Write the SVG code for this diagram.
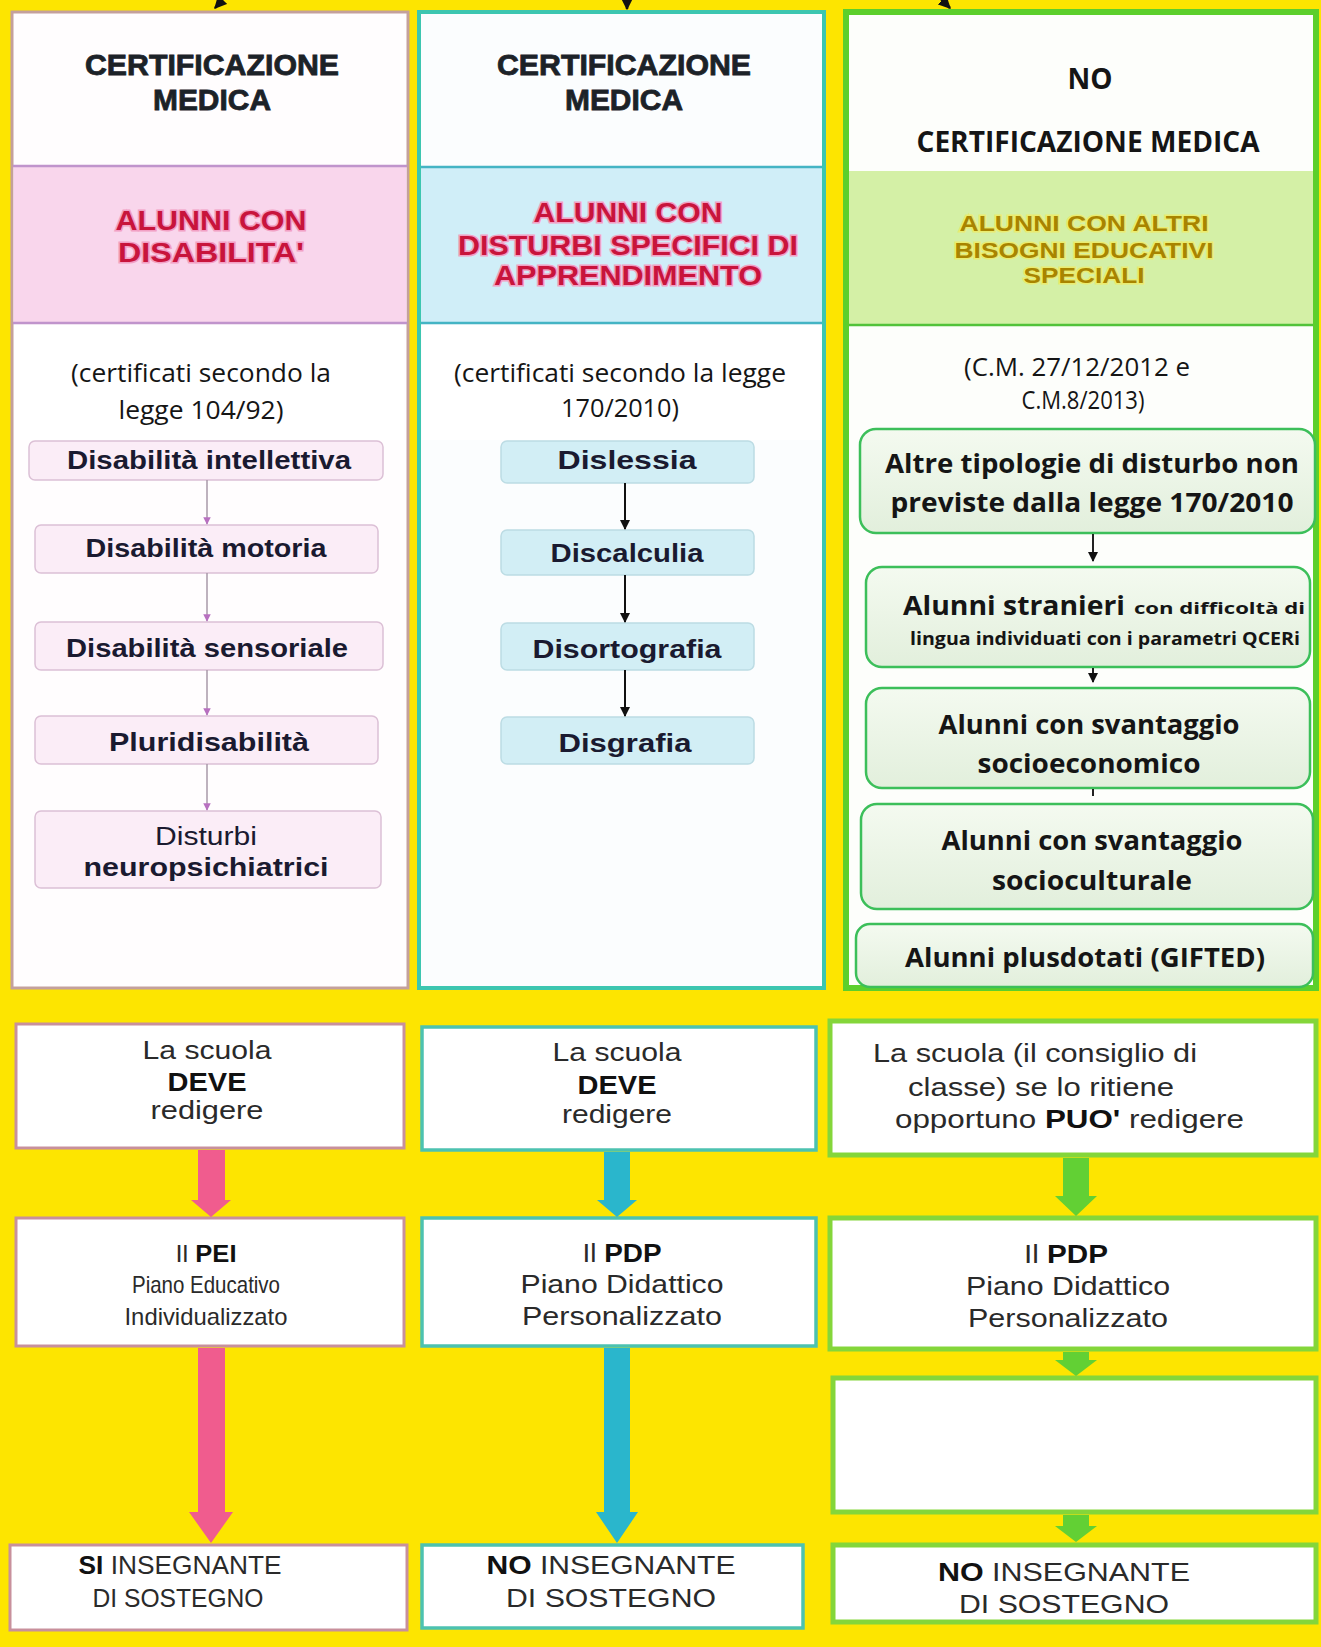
<svg xmlns="http://www.w3.org/2000/svg" width="1321" height="1647" viewBox="0 0 1321 1647">
<defs>
<style>
.hdr{font-family:"Liberation Sans",Arial,sans-serif;font-weight:bold;font-size:29px;fill:#1c2228;stroke:#1c2228;stroke-width:0.8;text-anchor:middle}
.red{font-family:"Liberation Sans",Arial,sans-serif;font-weight:bold;font-size:28px;fill:#c8143c;stroke:#f2a0c4;stroke-width:3;paint-order:stroke;text-anchor:middle}
.gold{font-family:"Liberation Sans",Arial,sans-serif;font-weight:bold;font-size:22px;fill:#a88400;stroke:#eaec70;stroke-width:3;paint-order:stroke;text-anchor:middle}
.cal{font-family:"Open Sans","Noto Sans",sans-serif;font-size:25px;fill:#151515;text-anchor:middle}
.calb{font-family:"Open Sans","Noto Sans",sans-serif;font-weight:bold;font-size:27px;fill:#151515;text-anchor:middle}
.bx{font-family:"Liberation Sans",Arial,sans-serif;font-weight:bold;font-size:25px;fill:#1a1a30;text-anchor:middle}
.bxn{font-family:"Liberation Sans",Arial,sans-serif;font-size:25px;fill:#1a1a30;text-anchor:middle}
.ar{font-family:"Liberation Sans",Arial,sans-serif;font-size:25px;fill:#2a2a2a;text-anchor:middle}
.arb{font-weight:bold;fill:#111}
.c1{fill:#fffdfe;stroke:#c4a09c;stroke-width:3}
.c2{fill:#fbfdfe;stroke:#3cc6b0;stroke-width:4}
.c3{fill:#fdfefb;stroke:#5ccf2c;stroke-width:6}
.pk{fill:#fbedf7;stroke:#dcc0d6;stroke-width:1.5}
.bl{fill:#d2eef5;stroke:#bcdce4;stroke-width:1.5}
.gr{fill:url(#gg);stroke:#3cbf5a;stroke-width:2.5}
.b1{fill:#ffffff;stroke:#c8909c;stroke-width:3}
.b2{fill:#ffffff;stroke:#4cc2b0;stroke-width:3.5}
.b3{fill:#ffffff;stroke:#84d63a;stroke-width:5}
</style>
<linearGradient id="gg" x1="0" y1="0" x2="0" y2="1">
<stop offset="0" stop-color="#f4faf0"/>
<stop offset="1" stop-color="#e2efdc"/>
</linearGradient>
<marker id="mb" viewBox="0 0 10 10" refX="9" refY="5" markerWidth="5" markerHeight="5" orient="auto">
<path d="M0,0 L10,5 L0,10 z" fill="#111"/>
</marker>
<marker id="mp" viewBox="0 0 10 10" refX="9" refY="5" markerWidth="5" markerHeight="5" orient="auto">
<path d="M0,0 L10,5 L0,10 z" fill="#b870c0"/>
</marker>
</defs>

<rect x="0" y="0" width="1321" height="1647" fill="#fde500"/>

<!-- column 1 -->
<g id="col1">
<rect class="c1" x="12" y="12" width="396" height="976"/>
<rect x="13.5" y="166" width="393" height="157" fill="#f9d6ec"/>
<line x1="13" y1="166" x2="407" y2="166" stroke="#c094cc" stroke-width="2.5"/>
<line x1="13" y1="323" x2="407" y2="323" stroke="#c094cc" stroke-width="2.5"/>
<rect x="14" y="325" width="390" height="115" fill="#ffffff"/>
<text class="hdr" x="212" y="75" textLength="254" lengthAdjust="spacingAndGlyphs">CERTIFICAZIONE</text>
<text class="hdr" x="212" y="110" textLength="118" lengthAdjust="spacingAndGlyphs">MEDICA</text>
<text class="red" x="211" y="230" textLength="191" lengthAdjust="spacingAndGlyphs">ALUNNI CON</text>
<text class="red" x="211" y="262" textLength="186" lengthAdjust="spacingAndGlyphs">DISABILITA'</text>
<text class="cal" x="201" y="382" textLength="260" lengthAdjust="spacingAndGlyphs">(certificati secondo la</text>
<text class="cal" x="201" y="419" textLength="165" lengthAdjust="spacingAndGlyphs">legge 104/92)</text>
</g>

<!-- column 2 -->
<g id="col2">
<rect class="c2" x="419" y="12" width="405" height="976"/>
<rect x="421" y="167" width="401" height="156" fill="#d0eef8"/>
<line x1="421" y1="167" x2="822" y2="167" stroke="#44b4c4" stroke-width="2.5"/>
<line x1="421" y1="323" x2="822" y2="323" stroke="#44b4c4" stroke-width="2.5"/>
<rect x="422" y="325" width="398" height="115" fill="#ffffff"/>
<text class="hdr" x="624" y="75" textLength="254" lengthAdjust="spacingAndGlyphs">CERTIFICAZIONE</text>
<text class="hdr" x="624" y="110" textLength="118" lengthAdjust="spacingAndGlyphs">MEDICA</text>
<text class="red" x="628" y="222" textLength="189" lengthAdjust="spacingAndGlyphs">ALUNNI CON</text>
<text class="red" x="628" y="255" textLength="340" lengthAdjust="spacingAndGlyphs">DISTURBI SPECIFICI DI</text>
<text class="red" x="628" y="285" textLength="268" lengthAdjust="spacingAndGlyphs">APPRENDIMENTO</text>
<text class="cal" x="620" y="382" textLength="332" lengthAdjust="spacingAndGlyphs">(certificati secondo la legge</text>
<text class="cal" x="620" y="417" textLength="118" lengthAdjust="spacingAndGlyphs">170/2010)</text>
</g>

<!-- column 3 -->
<g id="col3">
<rect class="c3" x="846" y="12" width="470" height="976"/>
<rect x="849" y="171" width="464" height="154" fill="#d4f0a6"/>
<line x1="849" y1="325" x2="1313" y2="325" stroke="#52c23a" stroke-width="2.5"/>
<text class="calb" x="1090" y="89" style="font-size:28px">NO</text>
<text class="calb" x="1088" y="152" style="font-size:28px" textLength="343" lengthAdjust="spacingAndGlyphs">CERTIFICAZIONE MEDICA</text>
<text class="gold" x="1084" y="231" textLength="249" lengthAdjust="spacingAndGlyphs">ALUNNI CON ALTRI</text>
<text class="gold" x="1084" y="258" textLength="259" lengthAdjust="spacingAndGlyphs">BISOGNI EDUCATIVI</text>
<text class="gold" x="1084" y="283" textLength="121" lengthAdjust="spacingAndGlyphs">SPECIALI</text>
<text class="cal" x="1077" y="376" textLength="226" lengthAdjust="spacingAndGlyphs">(C.M. 27/12/2012 e</text>
<text class="cal" x="1083" y="409" textLength="123" lengthAdjust="spacingAndGlyphs">C.M.8/2013)</text>
</g>

<!-- col1 list -->
<g id="d1"><rect class="pk" x="29" y="441" width="354" height="39" rx="6"/><text class="bx" x="209" y="469" textLength="284" lengthAdjust="spacingAndGlyphs">Disabilità intellettiva</text></g>
<g id="d2"><rect class="pk" x="35" y="525" width="343" height="48" rx="6"/><text class="bx" x="206" y="557" textLength="241" lengthAdjust="spacingAndGlyphs">Disabilità motoria</text></g>
<g id="d3"><rect class="pk" x="35" y="622" width="348" height="48" rx="6"/><text class="bx" x="207" y="657" textLength="282" lengthAdjust="spacingAndGlyphs">Disabilità sensoriale</text></g>
<g id="d4"><rect class="pk" x="35" y="716" width="343" height="48" rx="6"/><text class="bx" x="209" y="751" textLength="200" lengthAdjust="spacingAndGlyphs">Pluridisabilità</text></g>
<g id="d5"><rect class="pk" x="35" y="811" width="346" height="77" rx="6"/><text class="bxn" x="206" y="845" textLength="102" lengthAdjust="spacingAndGlyphs">Disturbi</text><text class="bx" x="206" y="876" textLength="245" lengthAdjust="spacingAndGlyphs">neuropsichiatrici</text></g>

<!-- col2 list -->
<g id="s1"><rect class="bl" x="501" y="441" width="253" height="42" rx="6"/><text class="bx" x="627" y="469" textLength="139" lengthAdjust="spacingAndGlyphs">Dislessia</text></g>
<g id="s2"><rect class="bl" x="501" y="530" width="253" height="45" rx="6"/><text class="bx" x="627" y="562" textLength="153" lengthAdjust="spacingAndGlyphs">Discalculia</text></g>
<g id="s3"><rect class="bl" x="501" y="623" width="253" height="47" rx="6"/><text class="bx" x="627" y="658" textLength="189" lengthAdjust="spacingAndGlyphs">Disortografia</text></g>
<g id="s4"><rect class="bl" x="501" y="717" width="253" height="47" rx="6"/><text class="bx" x="625" y="752" textLength="133" lengthAdjust="spacingAndGlyphs">Disgrafia</text></g>

<!-- col3 list -->
<g id="g1"><rect class="gr" x="860" y="429" width="455" height="104" rx="16"/><text class="calb" x="1092" y="473" textLength="414" lengthAdjust="spacingAndGlyphs">Altre tipologie di disturbo non</text><text class="calb" x="1092" y="512" textLength="403" lengthAdjust="spacingAndGlyphs">previste dalla legge 170/2010</text></g>
<g id="g2"><rect class="gr" x="866" y="567" width="444" height="100" rx="16"/><text class="calb" x="903" y="615" style="text-anchor:start" textLength="222" lengthAdjust="spacingAndGlyphs">Alunni  stranieri</text><text class="calb" x="1134" y="614" style="font-size:16px;text-anchor:start" textLength="171" lengthAdjust="spacingAndGlyphs">con difficoltà  di</text><text class="calb" x="1105" y="645" style="font-size:17px" textLength="390" lengthAdjust="spacingAndGlyphs">lingua individuati con i parametri QCERi</text></g>
<g id="g3"><rect class="gr" x="866" y="688" width="444" height="100" rx="16"/><text class="calb" x="1089" y="734" textLength="301" lengthAdjust="spacingAndGlyphs">Alunni con svantaggio</text><text class="calb" x="1089" y="773" textLength="223" lengthAdjust="spacingAndGlyphs">socioeconomico</text></g>
<g id="g4"><rect class="gr" x="861" y="804" width="452" height="105" rx="16"/><text class="calb" x="1092" y="850" textLength="301" lengthAdjust="spacingAndGlyphs">Alunni con svantaggio</text><text class="calb" x="1092" y="890" textLength="200" lengthAdjust="spacingAndGlyphs">socioculturale</text></g>
<g id="g5"><rect class="gr" x="856" y="924" width="457" height="63" rx="14"/><text class="calb" x="1085" y="967" textLength="360" lengthAdjust="spacingAndGlyphs">Alunni plusdotati (GIFTED)</text></g>

<!-- bottom col1 -->
<g id="p1"><rect class="b1" x="16" y="1024" width="388" height="124"/><text class="ar" x="207" y="1059" textLength="129" lengthAdjust="spacingAndGlyphs">La scuola</text><text class="ar arb" x="207" y="1091" textLength="79" lengthAdjust="spacingAndGlyphs">DEVE</text><text class="ar" x="207" y="1119" textLength="113" lengthAdjust="spacingAndGlyphs">redigere</text></g>
<g id="p2"><rect class="b1" x="16" y="1218" width="388" height="128"/><text class="ar" x="206" y="1262" style="font-size:24px" textLength="61" lengthAdjust="spacingAndGlyphs">Il <tspan class="arb">PEI</tspan></text><text class="ar" x="206" y="1293" style="font-size:24px" textLength="148" lengthAdjust="spacingAndGlyphs">Piano Educativo</text><text class="ar" x="206" y="1325" style="font-size:24px" textLength="163" lengthAdjust="spacingAndGlyphs">Individualizzato</text></g>
<g id="p3"><rect class="b1" x="10" y="1545" width="397" height="85"/><text class="ar" x="180" y="1574" textLength="203" lengthAdjust="spacingAndGlyphs"><tspan class="arb">SI</tspan> INSEGNANTE</text><text class="ar" x="178" y="1607" textLength="171" lengthAdjust="spacingAndGlyphs">DI SOSTEGNO</text></g>

<!-- bottom col2 -->
<g id="q1"><rect class="b2" x="422" y="1027" width="394" height="123"/><text class="ar" x="617" y="1061" textLength="129" lengthAdjust="spacingAndGlyphs">La scuola</text><text class="ar arb" x="617" y="1094" textLength="79" lengthAdjust="spacingAndGlyphs">DEVE</text><text class="ar" x="617" y="1123" textLength="110" lengthAdjust="spacingAndGlyphs">redigere</text></g>
<g id="q2"><rect class="b2" x="422" y="1218" width="394" height="128"/><text class="ar" x="622" y="1262" textLength="79" lengthAdjust="spacingAndGlyphs">Il <tspan class="arb">PDP</tspan></text><text class="ar" x="622" y="1293" textLength="203" lengthAdjust="spacingAndGlyphs">Piano Didattico</text><text class="ar" x="622" y="1325" textLength="200" lengthAdjust="spacingAndGlyphs">Personalizzato</text></g>
<g id="q3"><rect class="b2" x="422" y="1545" width="381" height="83"/><text class="ar" x="611" y="1574" textLength="249" lengthAdjust="spacingAndGlyphs"><tspan class="arb">NO</tspan> INSEGNANTE</text><text class="ar" x="611" y="1607" textLength="210" lengthAdjust="spacingAndGlyphs">DI SOSTEGNO</text></g>

<!-- bottom col3 -->
<g id="r1"><rect class="b3" x="830" y="1021" width="486" height="134"/><text class="ar" x="873" y="1062" style="text-anchor:start" textLength="324" lengthAdjust="spacingAndGlyphs">La scuola (il consiglio di</text><text class="ar" x="908" y="1096" style="text-anchor:start" textLength="266" lengthAdjust="spacingAndGlyphs">classe) se lo ritiene</text><text class="ar" x="895" y="1128" style="text-anchor:start" textLength="349" lengthAdjust="spacingAndGlyphs">opportuno  <tspan class="arb">PUO'</tspan> redigere</text></g>
<g id="r2"><rect class="b3" x="830" y="1218" width="486" height="131"/><text class="ar" x="1066" y="1263" textLength="84" lengthAdjust="spacingAndGlyphs">Il <tspan class="arb">PDP</tspan></text><text class="ar" x="1068" y="1295" textLength="204" lengthAdjust="spacingAndGlyphs">Piano Didattico</text><text class="ar" x="1068" y="1327" textLength="200" lengthAdjust="spacingAndGlyphs">Personalizzato</text></g>
<g id="r3"><rect class="b3" x="833" y="1378" width="483" height="134"/></g>
<g id="r4"><rect class="b3" x="833" y="1545" width="483" height="77"/><text class="ar" x="1064" y="1581" textLength="252" lengthAdjust="spacingAndGlyphs"><tspan class="arb">NO</tspan> INSEGNANTE</text><text class="ar" x="1064" y="1613" textLength="210" lengthAdjust="spacingAndGlyphs">DI SOSTEGNO</text></g>

<!-- connectors -->
<g id="connectors">
<line x1="226" y1="-4" x2="215" y2="8" stroke="#111" stroke-width="2.5" marker-end="url(#mb)"/>
<line x1="627" y1="-4" x2="627" y2="9" stroke="#111" stroke-width="2.5" marker-end="url(#mb)"/>
<line x1="938" y1="-4" x2="950" y2="8" stroke="#111" stroke-width="2.5" marker-end="url(#mb)"/>

<line x1="207" y1="480" x2="207" y2="524" stroke="#a898a8" stroke-width="1.5" marker-end="url(#mp)"/>
<line x1="207" y1="573" x2="207" y2="621" stroke="#a898a8" stroke-width="1.5" marker-end="url(#mp)"/>
<line x1="207" y1="670" x2="207" y2="715" stroke="#a898a8" stroke-width="1.5" marker-end="url(#mp)"/>
<line x1="207" y1="764" x2="207" y2="810" stroke="#a898a8" stroke-width="1.5" marker-end="url(#mp)"/>

<line x1="625" y1="483" x2="625" y2="529" stroke="#111" stroke-width="2" marker-end="url(#mb)"/>
<line x1="625" y1="575" x2="625" y2="622" stroke="#111" stroke-width="2" marker-end="url(#mb)"/>
<line x1="625" y1="670" x2="625" y2="716" stroke="#111" stroke-width="2" marker-end="url(#mb)"/>

<line x1="1093" y1="534" x2="1093" y2="561" stroke="#222" stroke-width="2" marker-end="url(#mb)"/>
<line x1="1093" y1="668" x2="1093" y2="682" stroke="#222" stroke-width="2" marker-end="url(#mb)"/>
<line x1="1093" y1="789" x2="1093" y2="796" stroke="#222" stroke-width="2"/>

<path d="M198,1150 L225,1150 L225,1200 L231,1200 L211,1217 L191,1200 L198,1200 z" fill="#f05c8e"/>
<path d="M198,1348 L225,1348 L225,1512 L233,1512 L211,1543 L189,1512 L198,1512 z" fill="#f05c8e"/>
<path d="M604,1152 L630,1152 L630,1200 L637,1200 L617,1217 L597,1200 L604,1200 z" fill="#2ab6cc"/>
<path d="M604,1348 L630,1348 L630,1512 L638,1512 L617,1543 L596,1512 L604,1512 z" fill="#2ab6cc"/>
<path d="M1063,1158 L1089,1158 L1089,1196 L1097,1196 L1076,1216 L1055,1196 L1063,1196 z" fill="#62d034"/>
<path d="M1063,1352 L1089,1352 L1089,1360 L1097,1360 L1076,1376 L1055,1360 L1063,1360 z" fill="#62d034"/>
<path d="M1063,1515 L1089,1515 L1089,1526 L1097,1526 L1076,1542 L1055,1526 L1063,1526 z" fill="#62d034"/>
</g>
</svg>
